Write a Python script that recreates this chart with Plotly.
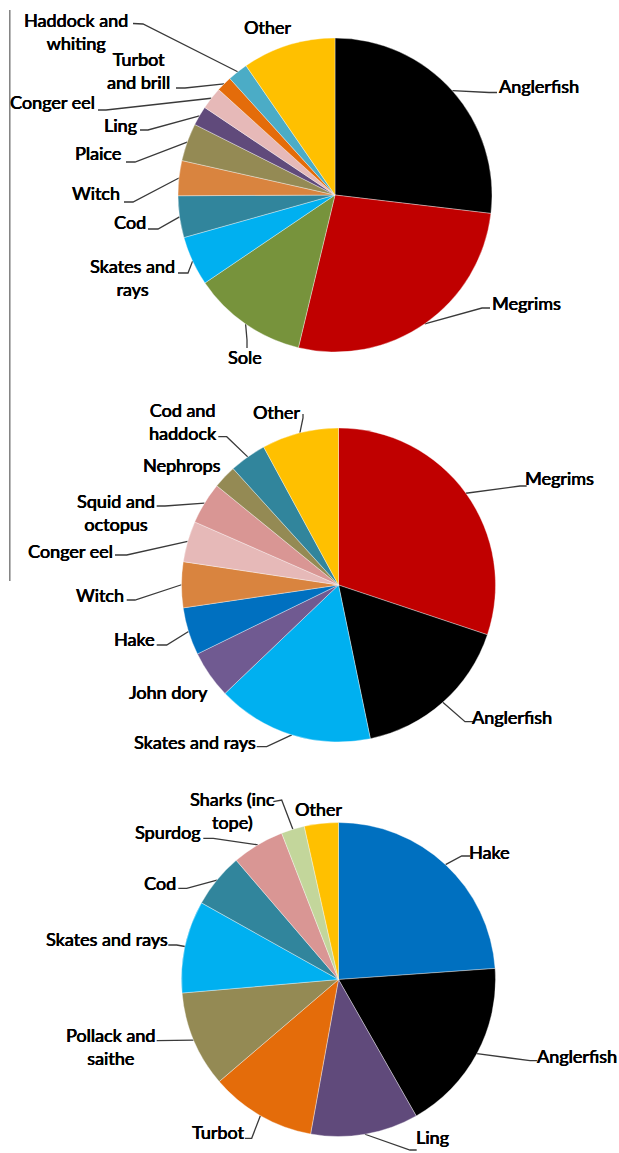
import math
import plotly.graph_objects as go

W, H = 619, 1153

# ---- data: three landings compositions (% of value) ----
p1_labels = ["Anglerfish", "Megrims", "Sole", "Skates and rays", "Cod", "Witch",
             "Plaice", "Ling", "Conger eel", "Turbot and brill",
             "Haddock and whiting", "Other"]
p1_values = [26.9, 26.9, 11.8, 5.1, 4.3, 3.6, 3.9, 2.0, 2.3, 1.6, 2.1, 9.6]
p1_text = ["Anglerfish", "Megrims", "Sole", "Skates and<br>rays", "Cod", "Witch",
           "Plaice", "Ling", "Conger eel", "Turbot<br>and brill",
           "Haddock and<br>whiting", "Other"]
p1_colors = ["#000000", "#C00000", "#77933C", "#00B0F0", "#31859C", "#D9843F",
             "#948A54", "#604A7B", "#E6B9B8", "#E46C0A", "#4BACC6", "#FFC000"]

p2_labels = ["Megrims", "Anglerfish", "Skates and rays", "John dory", "Hake",
             "Witch", "Conger eel", "Squid and octopus", "Nephrops",
             "Cod and haddock", "Other"]
p2_values = [30.1, 16.6, 16.1, 4.9, 4.9, 4.7, 4.2, 4.3, 2.4, 3.8, 7.9]
p2_text = ["Megrims", "Anglerfish", "Skates and rays", "John dory", "Hake",
           "Witch", "Conger eel", "Squid and<br>octopus", "Nephrops",
           "Cod and<br>haddock", "Other"]
p2_colors = ["#C00000", "#000000", "#00B0F0", "#705A91", "#0070C0", "#D9843F",
             "#E6B9B8", "#D99694", "#948A54", "#31859C", "#FFC000"]

p3_labels = ["Hake", "Anglerfish", "Ling", "Turbot", "Pollack and saithe",
             "Skates and rays", "Cod", "Spurdog", "Sharks (inc tope)", "Other"]
p3_values = [23.9, 17.9, 11.1, 10.9, 9.9, 9.5, 5.6, 5.4, 2.4, 3.5]
p3_text = ["Hake", "Anglerfish", "Ling", "Turbot", "Pollack and<br>saithe",
           "Skates and rays", "Cod", "Spurdog", "Sharks (inc<br>tope)", "Other"]
p3_colors = ["#0070C0", "#000000", "#604A7B", "#E46C0A", "#948A54", "#00B0F0",
             "#31859C", "#D99694", "#C3D69B", "#FFC000"]

# ---- layout: pie placement (pixel centre, radius) and label placement ----
# label entry: (text x, text y, leader points from the text towards the pie)
pies = [
    dict(labels=p1_labels, values=p1_values, text=p1_text, colors=p1_colors,
         cx=335, cy=195, r=157,
         place=[(539, 86, [(497, 92.5), (489, 92.5)]),
                (526, 303, [(490, 308), (482, 308)]),
                (245, 357, [(247, 348), (247, 340)]),
                (132, 277, [(178, 273), (188, 273)]),
                (130, 222, [(148, 229), (158, 229)]),
                (96, 193, [(124, 202), (133, 202)]),
                (98, 153, [(126, 162), (135, 162)]),
                (120, 125, [(140, 130), (148, 130)]),
                (52, 102, [(98, 110), (106, 110)]),
                (138.5, 70, [(176, 88), (185, 88)]),
                (76, 31, [(133, 23.5), (143, 24)]),
                (267, 27, None)]),
    dict(labels=p2_labels, values=p2_values, text=p2_text, colors=p2_colors,
         cx=338.5, cy=585, r=157,
         place=[(559, 478.3, [(526.7, 486), (520, 486)]),
                (511.7, 716.7, [(473.3, 721.7), (465, 721.7)]),
                (195, 741.7, [(256.7, 746.7), (266.7, 746.7)]),
                (168, 691.7, None),
                (134, 639.3, [(156.7, 645), (166.7, 645)]),
                (100, 595, [(126.7, 600), (135, 600)]),
                (70, 550.7, [(115, 555), (126.7, 555)]),
                (116, 512.3, [(156.7, 506), (165, 506)]),
                (181.7, 465, None),
                (183, 421, [(218.3, 436.7), (226.7, 436.7)]),
                (276.7, 411.7, [(303, 414), (303, 418)])]),
    dict(labels=p3_labels, values=p3_values, text=p3_text, colors=p3_colors,
         cx=338.5, cy=979.5, r=157,
         place=[(489.5, 851.7, [(470, 856), (461.7, 856)]),
                (577, 1056, [(537.3, 1060.7), (530, 1060.7)]),
                (432, 1136.7, [(416.7, 1150), (410, 1150)]),
                (217.5, 1131.7, [(245, 1138.3), (251.7, 1138.3)]),
                (110.5, 1046, [(156.7, 1040.7), (166.7, 1040.7)]),
                (106.7, 939.3, [(168.3, 945), (176.7, 945)]),
                (159.5, 882.7, [(178.3, 888.3), (186.7, 888.3)]),
                (168, 831.7, [(203.3, 838.3), (213.3, 838.3)]),
                (232, 810, [(273.3, 801.7), (281.7, 800)]),
                (318, 809.3, None)]),
]

FONT = "Lato, 'Open Sans', sans-serif"
fig = go.Figure()
annotations = []

for p in pies:
    cx, cy, r = p["cx"], p["cy"], p["r"]
    fig.add_trace(go.Pie(
        labels=p["labels"], values=p["values"],
        marker=dict(colors=p["colors"], line=dict(color="rgba(255,255,255,0.6)", width=0.6)),
        sort=False, direction="clockwise", rotation=0,
        textinfo="none", hoverinfo="label+percent", showlegend=False,
        domain=dict(x=[(cx - r) / W, (cx + r) / W],
                    y=[1 - (cy + r) / H, 1 - (cy - r) / H]),
    ))

    total = sum(p["values"])
    cum = 0.0
    for val, txt, (tx, ty, leader) in zip(p["values"], p["text"], p["place"]):
        mid = (cum + val / 2) / total * 2 * math.pi
        cum += val
        annotations.append(dict(
            x=tx, y=ty, xref="x", yref="y", text=txt, showarrow=False,
            xanchor="center", yanchor="middle", align="center",
            font=dict(family=FONT, size=18, color="#000000",
                      shadow="0.45px 0 0 #000000, -0.2px 0 0 #000000")))
        if leader:
            ex = cx + r * math.sin(mid)
            ey = cy - r * math.cos(mid)
            xs = [pt[0] for pt in leader] + [ex]
            ys = [pt[1] for pt in leader] + [ey]
            fig.add_trace(go.Scatter(
                x=xs, y=ys, mode="lines", xaxis="x", yaxis="y",
                line=dict(color="#3A3A3A", width=1.3),
                hoverinfo="skip", showlegend=False))

fig.update_layout(
    width=W, height=H,
    margin=dict(l=0, r=0, t=0, b=0),
    paper_bgcolor="white", plot_bgcolor="rgba(0,0,0,0)",
    xaxis=dict(range=[0, W], visible=False, fixedrange=True, domain=[0, 1]),
    yaxis=dict(range=[H, 0], visible=False, fixedrange=True, domain=[0, 1]),
    annotations=annotations,
    shapes=[dict(type="line", xref="x", yref="y", x0=9.8, x1=9.8, y0=10, y1=581,
                 line=dict(color="#7F7F7F", width=1.5))],
)

fig.write_html("out.html")
